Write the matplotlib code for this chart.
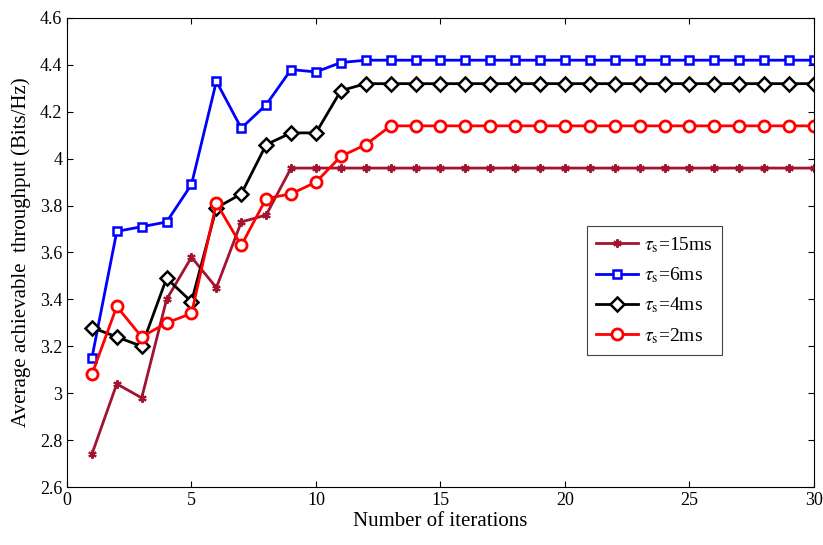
import matplotlib
matplotlib.use("Agg")
import matplotlib.pyplot as plt
from matplotlib.ticker import FormatStrFormatter

plt.rcParams['font.family'] = ['Liberation Serif', 'DejaVu Serif']
plt.rcParams['mathtext.fontset'] = 'stix'

iters = list(range(1, 31))
tp_15ms = [2.74, 3.04, 2.98, 3.40, 3.58, 3.45, 3.73, 3.76, 3.96] + [3.96] * 21
tp_6ms = [3.15, 3.69, 3.71, 3.73, 3.89, 4.33, 4.13, 4.23, 4.38, 4.37, 4.41] + [4.42] * 19
tp_4ms = [3.28, 3.24, 3.20, 3.49, 3.39, 3.79, 3.85, 4.06, 4.11, 4.11, 4.29] + [4.32] * 19
tp_2ms = [3.08, 3.37, 3.24, 3.30, 3.34, 3.81, 3.63, 3.83, 3.85, 3.90, 4.01, 4.06] + [4.14] * 18

fig = plt.figure(figsize=(8.23, 5.45), dpi=100)
ax = fig.add_axes([0.0814, 0.1064, 0.9076, 0.8606])

ax.plot(iters, tp_15ms, color='#a2142f', lw=2, marker=(6, 2, 0), ms=6, mew=1.5,
        label=r'$\tau_{\rm s}$=15ms')
ax.plot(iters, tp_6ms, color='#0000ff', lw=2, marker='s', ms=6, mew=1.8, mfc='white',
        label=r'$\tau_{\rm s}$=6ms')
ax.plot(iters, tp_4ms, color='black', lw=2, marker='D', ms=7, mew=1.8, mfc='white',
        label=r'$\tau_{\rm s}$=4ms')
ax.plot(iters, tp_2ms, color='#ff0000', lw=2, marker='o', ms=8, mew=2, mfc='white',
        label=r'$\tau_{\rm s}$=2ms')

ax.set_xlim(0, 30)
ax.set_ylim(2.6, 4.6)
ax.set_xticks(range(0, 31, 5))
ax.set_yticks([2.6 + 0.2 * i for i in range(11)])
ax.yaxis.set_major_formatter(FormatStrFormatter('%g'))
ax.tick_params(direction='in', top=True, right=True, labelsize=13, length=4)
for s in ax.spines.values():
    s.set_linewidth(0.8)
ax.set_xlabel('Number of iterations', fontsize=15, labelpad=2)
ax.set_ylabel('Average achievable  throughput (Bits/Hz)', fontsize=15, labelpad=6)

leg = ax.legend(loc='upper left', bbox_to_anchor=(0.696, 0.556), borderaxespad=0,
                fontsize=14, fancybox=False, edgecolor='#444444', framealpha=1,
                handlelength=2.2, borderpad=0.45, labelspacing=0.55, handletextpad=0.3)
leg.get_frame().set_linewidth(0.8)

fig.savefig('out.png', dpi=100)
